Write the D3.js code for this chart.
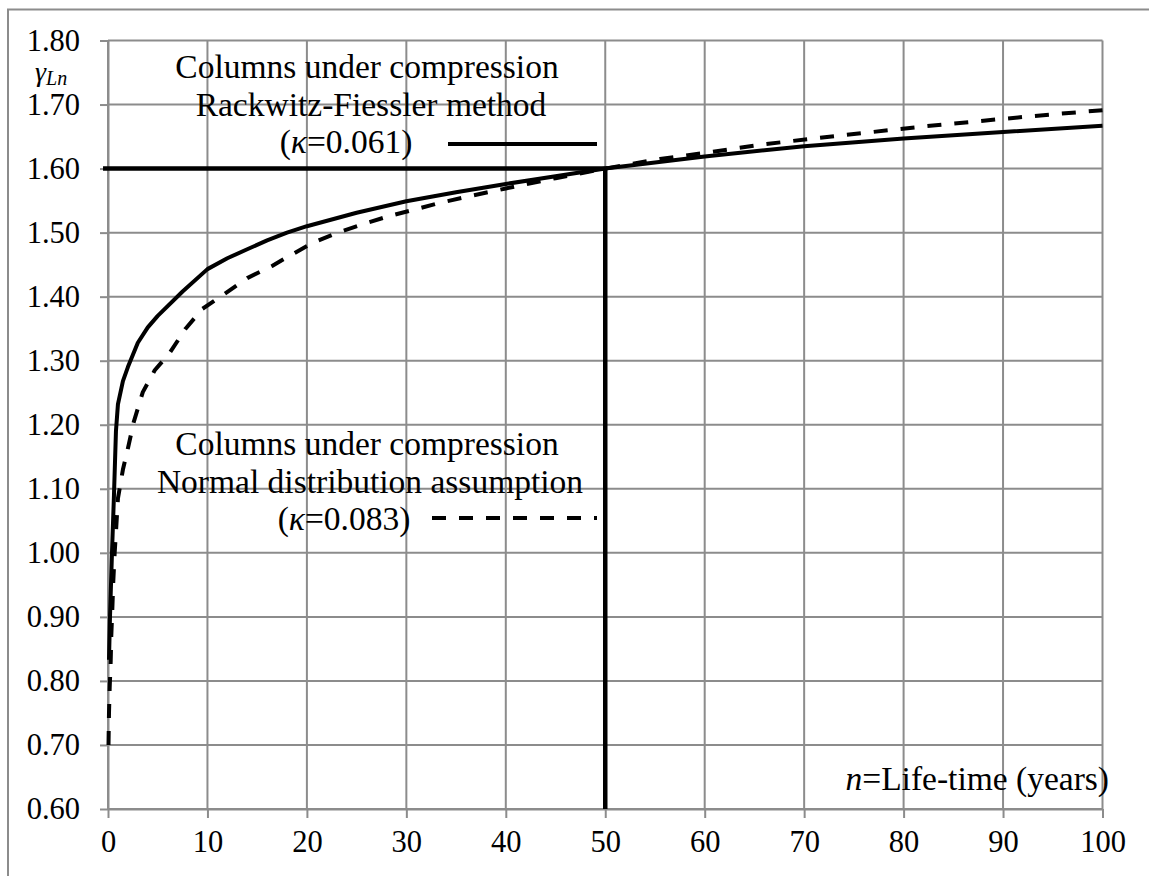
<!DOCTYPE html>
<html>
<head>
<meta charset="utf-8">
<script src="https://cdn.jsdelivr.net/npm/d3@7"></script>
<style>
  html, body { margin: 0; padding: 0; background: #fff; }
  svg { display: block; }
  text { font-family: "Liberation Serif", "Times New Roman", serif; fill: #000; }
</style>
</head>
<body>
<svg id="chart" width="1149" height="878"></svg>
<script>
// Axis ticks
const xTicks = [0, 10, 20, 30, 40, 50, 60, 70, 80, 90, 100];
const yTicks = [0.6, 0.7, 0.8, 0.9, 1.0, 1.1, 1.2, 1.3, 1.4, 1.5, 1.6, 1.7, 1.8];

// Rackwitz-Fiessler method (kappa = 0.061)
const nRF = [0.1, 0.2, 0.4, 0.6, 0.8, 1, 1.5, 2, 3, 4, 5, 7.5, 10, 12, 14, 16, 18, 20,
             25, 30, 35, 40, 45, 50, 60, 70, 80, 90, 100];
const gammaRF = [0.833, 0.900, 1.000, 1.090, 1.190, 1.232, 1.268, 1.290, 1.328, 1.352, 1.370,
                 1.408, 1.443, 1.460, 1.474, 1.488, 1.500, 1.510, 1.531, 1.549, 1.563, 1.576,
                 1.588, 1.600, 1.619, 1.635, 1.647, 1.657, 1.667];

// Normal distribution assumption (kappa = 0.083)
const nND = [0.05, 0.1, 0.17, 0.27, 0.33, 0.43, 0.53, 0.67, 0.83, 1, 1.5, 2, 2.6, 3.5, 4.7,
             6.2, 7.8, 9.5, 11.7, 14, 16.5, 18.5, 20.6, 23.1, 25.8, 28.3, 30.8, 33.5, 36.1,
             40, 45, 50, 55.5, 60.7, 66, 71.5, 76.8, 82.1, 87.5, 93, 98.3, 100];
const gammaND = [0.700, 0.750, 0.790, 0.830, 0.870, 0.910, 0.955, 1.000, 1.040, 1.085, 1.130,
                 1.163, 1.205, 1.251, 1.285, 1.312, 1.350, 1.381, 1.404, 1.429, 1.448, 1.466,
                 1.484, 1.500, 1.514, 1.526, 1.536, 1.547, 1.556, 1.569, 1.585, 1.600, 1.615,
                 1.626, 1.638, 1.648, 1.657, 1.666, 1.674, 1.682, 1.689, 1.691];

// Design life reference: gamma = 1.60 at n = 50 years
const refN = [-0.5, 50, 50];
const refGamma = [1.6, 1.6, 0.6];

const svg = d3.select("#chart");
const margin = { left: 108, right: 1102.5, top: 40.5, bottom: 809 };

const x = d3.scaleLinear().domain([0, 100]).range([margin.left, margin.right]);
const y = d3.scaleLinear().domain([0.6, 1.8]).range([margin.bottom, margin.top]);

const gridColor = "#8c8c8c";
const serif = '"Liberation Serif", "Times New Roman", serif';

// Outer chart frame
svg.append("path")
  .attr("d", "M8,876V9.5H1149")
  .attr("fill", "none").attr("stroke", gridColor).attr("stroke-width", 2);

// Gridlines
const grid = svg.append("g");
grid.selectAll("line.v").data(xTicks).join("line")
  .attr("x1", d => x(d)).attr("x2", d => x(d))
  .attr("y1", y(1.8)).attr("y2", y(0.6))
  .attr("stroke", gridColor).attr("stroke-width", 2);
grid.selectAll("line.h").data(yTicks).join("line")
  .attr("x1", x(0)).attr("x2", x(100))
  .attr("y1", d => y(d)).attr("y2", d => y(d))
  .attr("stroke", gridColor).attr("stroke-width", 2);

// Axes
const tickFont = 30.5;
const xAxis = d3.axisBottom(x).tickValues(xTicks).tickSizeOuter(0).tickSizeInner(9).tickPadding(12)
  .tickFormat(d3.format("d"));
const yAxis = d3.axisLeft(y).tickValues(yTicks).tickSizeOuter(0).tickSizeInner(8).tickPadding(20)
  .tickFormat(d3.format(".2f"));

const gx = svg.append("g").attr("transform", `translate(0,${y(0.6)})`).call(xAxis);
const gy = svg.append("g").attr("transform", `translate(${x(0)},0)`).call(yAxis);
[gx, gy].forEach(g => {
  g.attr("font-family", null).attr("font-size", null);
  g.select(".domain").attr("stroke", gridColor).attr("stroke-width", 2);
  g.selectAll(".tick line").attr("stroke", gridColor).attr("stroke-width", 2);
  g.selectAll(".tick text")
    .style("font-family", serif)
    .style("font-size", tickFont + "px").attr("fill", "#000");
});

// Series
const line = d3.line().x(d => x(d[0])).y(d => y(d[1]));
const rfData = nRF.map((n, i) => [n, gammaRF[i]]);
const ndData = nND.map((n, i) => [n, gammaND[i]]);
const refData = refN.map((n, i) => [n, refGamma[i]]);

svg.append("path").datum(refData).attr("d", line)
  .attr("fill", "none").attr("stroke", "#000").attr("stroke-width", 4.5);

svg.append("path").datum(ndData).attr("d", line)
  .attr("fill", "none").attr("stroke", "#000").attr("stroke-width", 4)
  .attr("stroke-dasharray", "14,13").attr("stroke-linejoin", "round");

svg.append("path").datum(rfData).attr("d", line)
  .attr("fill", "none").attr("stroke", "#000").attr("stroke-width", 4)
  .attr("stroke-linejoin", "round");

// Annotations
const noteFont = 33.5;
function block(lines, cx, y0, dy) {
  lines.forEach((ln, i) => {
    const t = svg.append("text")
      .attr("x", cx[i]).attr("y", y0 + i * dy)
      .attr("text-anchor", "middle").style("font-size", noteFont + "px");
    ln.forEach(seg => t.append("tspan").attr("font-style", seg.i ? "italic" : null).text(seg.t));
  });
}
block([
  [{ t: "Columns under compression" }],
  [{ t: "Rackwitz-Fiessler method" }],
  [{ t: "(" }, { t: "κ", i: true }, { t: "=0.061)" }]
], [367, 371, 346], 78, 37.5);

block([
  [{ t: "Columns under compression" }],
  [{ t: "Normal distribution assumption" }],
  [{ t: "(" }, { t: "κ", i: true }, { t: "=0.083)" }]
], [367, 370, 344], 455, 37.5);

// Legend samples
svg.append("line").attr("x1", 448).attr("x2", 597).attr("y1", 144).attr("y2", 144)
  .attr("stroke", "#000").attr("stroke-width", 4);
svg.append("line").attr("x1", 432).attr("x2", 597).attr("y1", 518).attr("y2", 518)
  .attr("stroke", "#000").attr("stroke-width", 4).attr("stroke-dasharray", "14,13");

// Axis titles
const yt = svg.append("text").attr("x", 35).attr("y", 81).style("font-size", "28px");
yt.append("tspan").attr("font-style", "italic").text("γ");
yt.append("tspan").attr("font-style", "italic").style("font-size", "20px").attr("dy", 4).text("Ln");

const xt = svg.append("text").attr("x", 1109).attr("y", 790)
  .attr("text-anchor", "end").style("font-size", noteFont + "px");
xt.append("tspan").attr("font-style", "italic").text("n");
xt.append("tspan").text("=Life-time (years)");
</script>
</body>
</html>
